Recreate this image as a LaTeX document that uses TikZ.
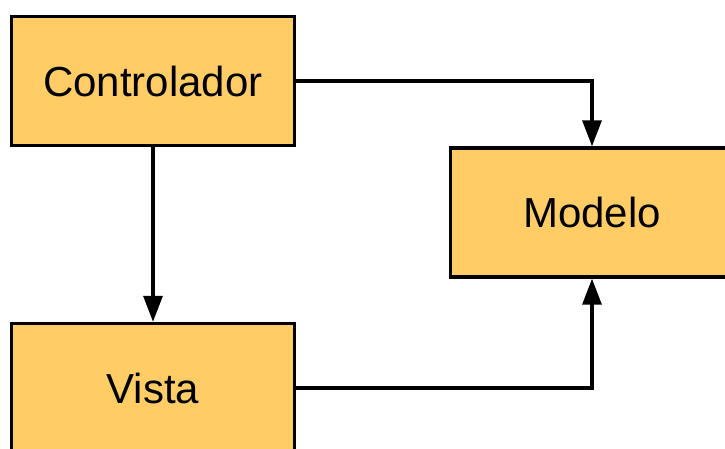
\documentclass[tikz,border=0pt]{standalone}
\usepackage{fontspec}
\setmainfont{Liberation Sans}
\usetikzlibrary{arrows.meta}
\definecolor{boxfill}{HTML}{FFCC66}
\begin{document}
\begin{tikzpicture}[x=1pt,y=-1pt,
  box/.style={draw=black, fill=boxfill, line width=3.4pt, minimum width=283pt, minimum height=129pt, inner sep=0pt, font=\fontsize{42}{50}\selectfont},
  conn/.style={line width=3.2pt, -{Triangle[length=26pt,width=19pt]}}]
\useasboundingbox (0,0) rectangle (725,448);
\begin{scope}
\clip (0,0) rectangle (725,448);
\node[box] (ctrl) at (153,81) {Controlador};
\node[box] (model) at (592,212.5) {Modelo};
\node[box] (vista) at (153,388) {Vista};
\draw[conn] (ctrl.east) -| (model.north);
\draw[conn] (ctrl.south) -- (vista.north);
\draw[conn] (vista.east) -| (model.south);
\end{scope}
\end{tikzpicture}
\end{document}
